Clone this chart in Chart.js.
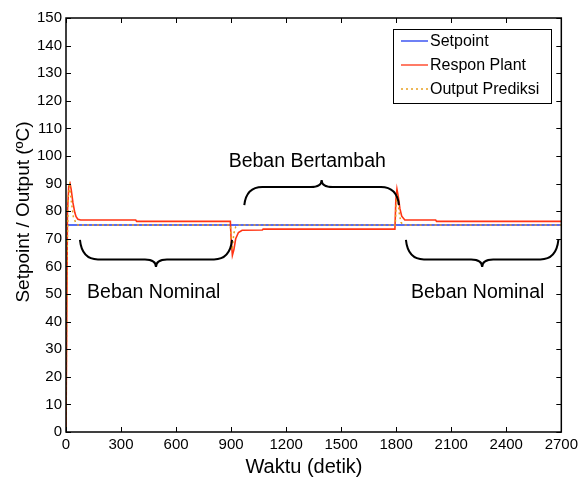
<!DOCTYPE html>
<html>
<head>
<meta charset="utf-8">
<script src="https://cdn.jsdelivr.net/npm/chart.js@4/dist/chart.umd.min.js"></script>
<style>
  html, body { margin: 0; padding: 0; background: #fff; }
  canvas { display: block; }
</style>
</head>
<body>
<canvas id="chart" width="582" height="482"></canvas>
<script>
// data
var setpointTime = [0, 2700];
var setpointVal  = [75, 75];

var responTime = [0, 8, 15, 22, 28, 38, 48, 55, 65, 80, 380, 385, 896, 900, 907, 915, 925, 940, 960, 1070, 1075,
                  1793, 1798, 1804, 1812, 1820, 1830, 1847, 2015, 2020, 2700];
var responVal  = [0, 80, 89, 90, 88, 83, 79.5, 78, 77.1, 76.8, 76.8, 76.3, 76.3, 70, 64, 66, 70, 72.3, 73.1, 73.2, 73.5,
                  73.5, 84, 88, 85, 81, 78.2, 76.8, 76.8, 76.3, 76.3];

var prediksiTime = [0, 5, 12, 20, 28, 40, 52, 65, 896, 900, 906, 915, 925, 940, 1795, 1800, 1806, 1815, 1825, 1840, 2700];
var prediksiVal  = [0, 60, 85, 89, 84, 78, 76, 75, 75, 70, 66, 72, 74.3, 75, 75, 83, 86, 80, 76, 75, 75];

var xTicks = [0, 300, 600, 900, 1200, 1500, 1800, 2100, 2400, 2700];
var yTicks = [0, 10, 20, 30, 40, 50, 60, 70, 80, 90, 100, 110, 120, 130, 140, 150];

var seriesNames = ["Setpoint", "Respon Plant", "Output Prediksi"];

// annotation braces (data units) and their labels
var braces = [
  { from: 76,   to: 905,  ends: 69.6, tip: 59.8 },
  { from: 972,  to: 1815, ends: 82.2, tip: 91.3 },
  { from: 1853, to: 2684, ends: 69.6, tip: 59.8 }
];
var braceLabels = [
  { text: "Beban Nominal",   t: 478,  v: 48.6 },
  { text: "Beban Bertambah", t: 1315, v: 96 },
  { text: "Beban Nominal",   t: 2244, v: 48.6 }
];

function pts(ts, vs) {
  return ts.map(function (t, i) { return { x: t, y: vs[i] }; });
}

var colors = ["#1f3cf0", "#ff3414", "#e8a020"];
var FONT = "'Liberation Sans', Arial, Helvetica, sans-serif";

var decorations = {
  id: "decorations",
  afterDraw: function (chart) {
    var ctx = chart.ctx, a = chart.chartArea;
    var xs = chart.scales.x, ys = chart.scales.y;
    ctx.save();

    // frame and inward ticks
    ctx.strokeStyle = "#000";
    ctx.lineWidth = 1.5;
    ctx.strokeRect(a.left, a.top, a.right - a.left, a.bottom - a.top);
    ctx.lineWidth = 1;
    ctx.beginPath();
    yTicks.forEach(function (v) {
      var y = Math.round(ys.getPixelForValue(v)) + 0.5;
      ctx.moveTo(a.left, y); ctx.lineTo(a.left + 5, y);
      ctx.moveTo(a.right, y); ctx.lineTo(a.right - 5, y);
    });
    xTicks.forEach(function (t) {
      var x = Math.round(xs.getPixelForValue(t)) + 0.5;
      ctx.moveTo(x, a.bottom); ctx.lineTo(x, a.bottom - 5);
      ctx.moveTo(x, a.top); ctx.lineTo(x, a.top + 5);
    });
    ctx.stroke();

    // braces
    ctx.lineWidth = 2;
    braces.forEach(function (b) {
      var x1 = xs.getPixelForValue(b.from), x2 = xs.getPixelForValue(b.to);
      var ye = ys.getPixelForValue(b.ends), yt = ys.getPixelForValue(b.tip);
      var xc = (x1 + x2) / 2;
      var ym = ye + (yt - ye) * 0.72;
      var r = 18, rt = 11;
      ctx.beginPath();
      ctx.moveTo(x1, ye);
      ctx.quadraticCurveTo(x1 + 2, ym, x1 + r, ym);
      ctx.lineTo(xc - rt, ym);
      ctx.quadraticCurveTo(xc, ym, xc, yt);
      ctx.quadraticCurveTo(xc, ym, xc + rt, ym);
      ctx.lineTo(x2 - r, ym);
      ctx.quadraticCurveTo(x2 - 2, ym, x2, ye);
      ctx.stroke();
    });

    // brace labels
    ctx.fillStyle = "#000";
    ctx.font = "19.5px " + FONT;
    ctx.textAlign = "center";
    ctx.textBaseline = "alphabetic";
    braceLabels.forEach(function (l) {
      ctx.fillText(l.text, xs.getPixelForValue(l.t), ys.getPixelForValue(l.v));
    });

    // legend box
    var lx = 393, ly = 29, lw = 158, lh = 74;
    ctx.fillStyle = "#fff";
    ctx.fillRect(lx, ly, lw, lh);
    ctx.strokeStyle = "#000";
    ctx.lineWidth = 1;
    ctx.strokeRect(lx + 0.5, ly + 0.5, lw, lh);
    ctx.font = "16px " + FONT;
    ctx.textAlign = "left";
    ctx.textBaseline = "middle";
    seriesNames.forEach(function (name, i) {
      var y = ly + 12 + i * 24;
      ctx.beginPath();
      ctx.strokeStyle = colors[i];
      ctx.lineWidth = i === 2 ? 1.5 : 1.3;
      ctx.setLineDash(i === 2 ? [2, 3] : []);
      ctx.moveTo(lx + 8, y); ctx.lineTo(lx + 35, y);
      ctx.stroke();
      ctx.setLineDash([]);
      ctx.fillStyle = "#000";
      ctx.fillText(name, lx + 37, y + 1);
    });

    // axis titles
    ctx.font = "20px " + FONT;
    ctx.textAlign = "center";
    ctx.textBaseline = "middle";
    ctx.fillText("Waktu (detik)", 304, 467);
    ctx.translate(24, 212);
    ctx.rotate(-Math.PI / 2);
    ctx.font = "19px " + FONT;
    ctx.fillText("Setpoint / Output (\u00baC)", 0, 0);
    ctx.restore();
  }
};

var config = {
  type: "line",
  data: {
    datasets: [
      {
        label: seriesNames[0],
        data: pts(setpointTime, setpointVal),
        borderColor: colors[0],
        borderWidth: 1.3,
        order: 2
      },
      {
        label: seriesNames[1],
        data: pts(responTime, responVal),
        borderColor: colors[1],
        borderWidth: 1.6,
        order: 1
      },
      {
        label: seriesNames[2],
        data: pts(prediksiTime, prediksiVal),
        borderColor: colors[2],
        borderWidth: 1.5,
        borderDash: [2, 3],
        order: 0
      }
    ]
  },
  options: {
    responsive: false,
    animation: false,
    events: [],
    layout: { padding: { left: 0, top: 18, right: 19, bottom: 0 } },
    elements: { point: { radius: 0 }, line: { tension: 0, fill: false } },
    plugins: { legend: { display: false }, tooltip: { enabled: false } },
    scales: {
      x: {
        type: "linear",
        min: 0, max: 2700,
        grid: { display: false, drawTicks: false },
        border: { display: false },
        afterBuildTicks: function (s) { s.ticks = xTicks.map(function (v) { return { value: v }; }); },
        afterFit: function (s) { s.height = 50; },
        ticks: {
          color: "#000", padding: 4, maxRotation: 0, autoSkip: false,
          font: { family: FONT, size: 15 },
          callback: function (v) { return String(v); }
        }
      },
      y: {
        min: 0, max: 150,
        grid: { display: false, drawTicks: false },
        border: { display: false },
        afterBuildTicks: function (s) { s.ticks = yTicks.map(function (v) { return { value: v }; }); },
        afterFit: function (s) { s.width = 66; },
        ticks: {
          color: "#000", padding: 4, autoSkip: false,
          font: { family: FONT, size: 15 },
          callback: function (v) { return String(v); }
        }
      }
    }
  },
  plugins: [decorations]
};

var chart = new Chart(document.getElementById("chart"), config);
</script>
</body>
</html>
